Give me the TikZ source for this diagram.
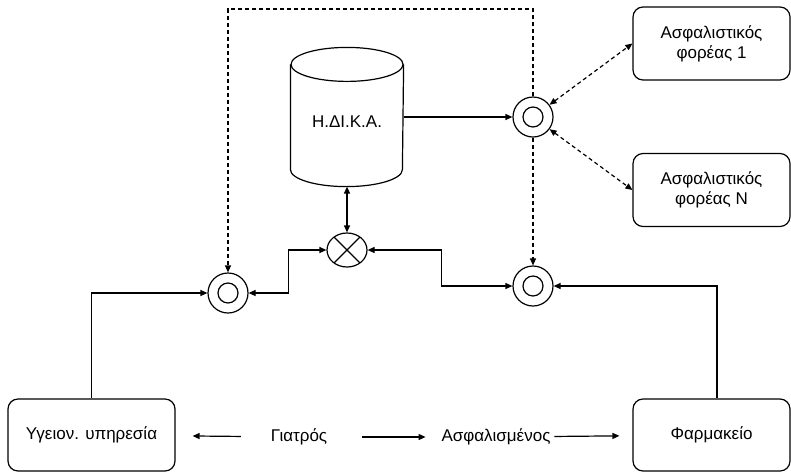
\documentclass[tikz,border=0pt]{standalone}
\usepackage{fontspec}
\setmainfont{Liberation Sans}
\usetikzlibrary{arrows.meta,shapes.geometric}

\begin{document}
\begin{tikzpicture}[
  x=1pt,y=-1pt,
  font=\fontsize{17}{20}\selectfont,
  line width=1.2pt,
  box/.style={draw,rounded corners=10pt,minimum width=157pt,minimum height=73pt,align=center},
  ring/.style={draw,circle,minimum size=40pt,inner sep=0pt,
    path picture={\draw (path picture bounding box.center) circle (10pt);}},
  mixer/.style={draw,ellipse,minimum width=40pt,minimum height=34pt,inner sep=0pt,
    path picture={\draw (path picture bounding box.center) +(-15pt,-15pt) -- +(15pt,15pt)
      +(-15pt,15pt) -- +(15pt,-15pt);}},
  msg/.style={-{Triangle[length=7pt,width=6pt]}},
  both/.style={{Triangle[length=7pt,width=6pt]}-{Triangle[length=7pt,width=6pt]}},
  link/.style={dash pattern=on 4pt off 3pt},
]
  \useasboundingbox (0,0) rectangle (791,472);

  % central registry (drawn as a cylinder round the node)
  \node[minimum width=112pt,minimum height=138pt,inner sep=0pt] (hdika) at (347,117) {};
  \draw ([yshift=-17pt]hdika.north west) -- ([yshift=17pt]hdika.south west)
    arc[start angle=180,end angle=0,x radius=56,y radius=17] -- ([yshift=-17pt]hdika.north east);
  \draw ([yshift=-17pt]hdika.north) ellipse[x radius=56,y radius=17];
  \node (hdikatext) at ([yshift=-5pt]hdika.center) {Η.ΔΙ.Κ.Α.};

  % sync points
  \node[ring] (sync) at (533,117) {};
  \node[ring] (left) at (228,293) {};
  \node[ring] (right) at (533,286) {};
  \node[mixer] (mix) at (347,250) {};

  % insurance funds
  \node[box] (fund1) at (711.5,43.5) {Ασφαλιστικός\\φορέας 1};
  \node[box] (fundN) at (711.5,190) {Ασφαλιστικός\\φορέας Ν};

  % bottom row
  \node[box,minimum width=167pt,minimum height=72pt] (hosp) at (91.5,435) {Υγειον. υπηρεσία};
  \node[box,minimum height=72pt] (pharm) at (711.5,435) {Φαρμακείο};
  \node (doc) at (299,437) {Γιατρός};
  \node (ins) at (496,437) {Ασφαλισμένος};

  \coordinate (top) at (533,9);

  \draw[msg] (hdika.east) -- (sync.west);
  \draw[link,msg] (sync.north) -- (top) -| (left.north);
  \draw[link,msg] (sync.south) -- (right.north);
  \draw[link,both] (sync) -- (fund1.west);
  \draw[link,both] (sync) -- (fundN.west);

  \draw[both] (hdika.south) -- (mix.north);
  \draw[both] (left.east) -- ++(40,0) |- (mix.west);
  \draw[both] (mix.east) -- ++(74,0) |- (right.west);
  \draw[msg] (hosp.north) |- (left.west);
  \draw[msg] ([xshift=5.5pt]pharm.north) |- (right.east);

  \draw[msg,shorten <=26pt,shorten >=17pt] (doc) -- (hosp);
  \draw[msg,shorten <=31pt,shorten >=12pt] (doc) -- (ins);
  \draw[msg,shorten >=13pt] (ins) -- (pharm);
\end{tikzpicture}
\end{document}
